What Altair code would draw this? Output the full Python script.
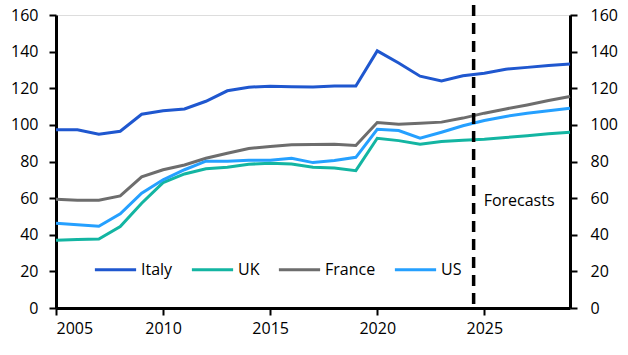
import altair as alt
import pandas as pd

years = list(range(2005, 2030))
italy = [97.3, 97.3, 94.9, 96.5, 105.8, 107.7, 108.7, 112.9, 118.6, 120.6, 121.1, 120.8, 120.7, 121.2, 121.2,
         140.4, 133.8, 126.6, 124.0, 126.8, 128.2, 130.4, 131.4, 132.4, 133.2]
uk = [37.0, 37.4, 37.7, 44.5, 57.2, 68.5, 73.2, 76.0, 76.9, 78.5, 79.1, 78.6, 76.9, 76.5, 75.0,
      92.7, 91.4, 89.4, 90.9, 91.6, 92.2, 93.1, 94.0, 95.1, 96.0]
france = [59.4, 58.9, 58.9, 61.2, 71.6, 75.5, 78.1, 81.8, 84.5, 87.1, 88.2, 89.1, 89.3, 89.4, 88.7,
          101.3, 100.4, 100.9, 101.5, 103.7, 106.4, 108.7, 110.9, 113.3, 115.5]
us = [46.3, 45.4, 44.6, 51.4, 62.7, 70.0, 75.5, 80.2, 80.2, 80.7, 80.7, 81.8, 79.4, 80.5, 82.3,
      97.6, 96.9, 92.7, 96.0, 99.5, 102.4, 104.6, 106.4, 107.7, 109.1]

series = ["Italy", "UK", "France", "US"]
colors = ["#1f57cf", "#13b5a2", "#6d6d6d", "#25a0ff"]
forecast_x = [2024.5]
forecast_label = ["Forecasts"]
forecast_y = [58.5]
x_ticks = [2005, 2010, 2015, 2020, 2025]
y_ticks = [0, 20, 40, 60, 80, 100, 120, 140, 160]

rows = []
for name, vals in zip(series, [italy, uk, france, us]):
    for yr, v in zip(years, vals):
        rows.append({"year": yr, "value": v, "series": name})
df = pd.DataFrame(rows)

FONT = "Open Sans"
FS = 16
xscale = alt.Scale(domain=[2005, 2029], nice=False, zero=False)
yscale = alt.Scale(domain=[0, 160], nice=False)

lines = alt.Chart(df).mark_line(strokeWidth=3).encode(
    x=alt.X("year:Q", scale=xscale,
            axis=alt.Axis(values=x_ticks, format="d", title=None, grid=False,
                          domainColor="black", domainWidth=3, tickColor="black",
                          tickWidth=2, tickSize=7, labelFontSize=FS, labelFont=FONT,
                          labelColor="black", labelPadding=5)),
    y=alt.Y("value:Q", scale=yscale,
            axis=alt.Axis(values=y_ticks, title=None, grid=False, orient="left",
                          domainColor="black", domainWidth=3, tickColor="black",
                          tickWidth=2, tickSize=7, labelFontSize=FS, labelFont=FONT,
                          labelColor="black", labelPadding=11)),
    color=alt.Color("series:N", scale=alt.Scale(domain=series, range=colors),
                    sort=series,
                    legend=alt.Legend(title=None, orient="none", direction="horizontal",
                                      legendX=37, legendY=232, symbolType="stroke",
                                      symbolSize=1700, symbolStrokeWidth=3,
                                      labelFontSize=FS, labelFont=FONT, labelColor="black",
                                      labelOffset=3, columnPadding=12)),
)

right = alt.Chart(df).mark_line(opacity=0).encode(
    x=alt.X("year:Q", scale=xscale),
    y=alt.Y("value:Q", scale=yscale,
            axis=alt.Axis(values=y_ticks, title=None, grid=False, orient="right",
                          domainColor="black", domainWidth=3, tickColor="black",
                          tickWidth=2, tickSize=7, labelFontSize=FS, labelFont=FONT,
                          labelColor="black", labelPadding=13)),
    detail="series:N",
)

fdf = pd.DataFrame({"x": forecast_x, "label": forecast_label, "y": forecast_y})
rule = alt.Chart(fdf).mark_rule(color="black", strokeWidth=3.5, strokeDash=[11, 7], clip=False).encode(
    x=alt.X("x:Q", scale=xscale),
    y=alt.value(-10),
    y2=alt.value(293),
)
text = alt.Chart(fdf).mark_text(align="left", baseline="middle", dx=10, fontSize=FS,
                                font=FONT, color="black").encode(
    x=alt.X("x:Q", scale=xscale),
    y=alt.Y("y:Q", scale=yscale, axis=None),
    text="label:N",
)

chart = alt.layer(lines, right, rule, text).resolve_scale(y="shared").resolve_axis(
    y="independent"
).properties(
    width=514, height=293,
    padding={"left": 56, "top": 15, "right": 58, "bottom": 47},
    autosize=alt.AutoSizeParams(type="none"),
).configure_view(stroke=None).configure(background="white")

chart.save("out.html", embed_options={"renderer": "svg", "actions": False})
